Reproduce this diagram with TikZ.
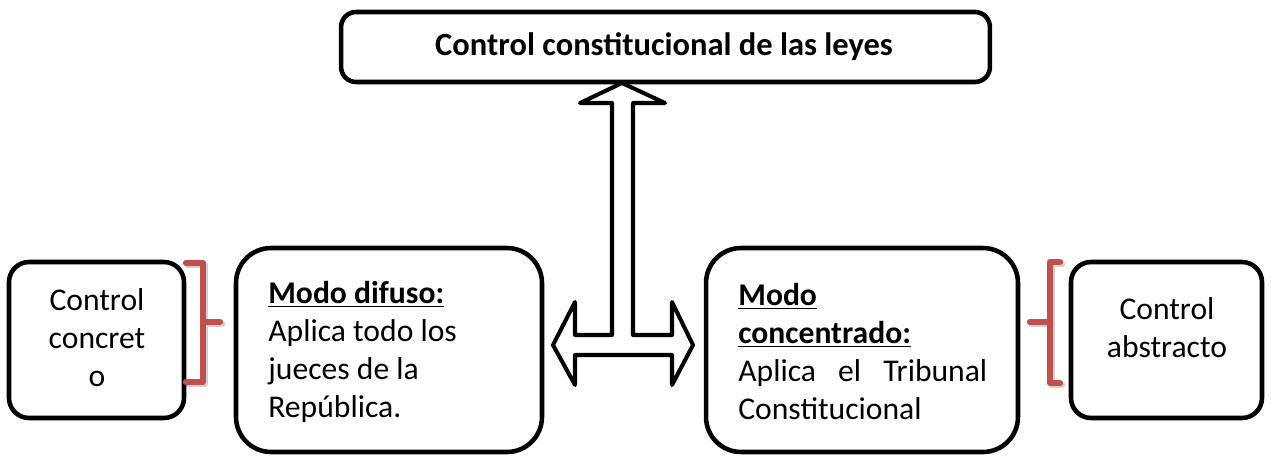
\documentclass[tikz,border=0pt]{standalone}
\usepackage{fontspec}
\setmainfont{Carlito}
\usepackage{xcolor}
\definecolor{bracketred}{HTML}{C0504D}
\tikzset{
  box/.style={draw, line width=2.6pt, rounded corners=0.4cm, inner sep=0pt},
  bodytext/.style={inner sep=0pt, font=\fontsize{18}{21.7}\selectfont},
  bracket/.style={draw=bracketred, line width=3.6pt, line cap=round, line join=round},
  bracketshadow/.style={draw=black, opacity=0.18, line width=3.8pt, line cap=round, line join=round},
}

\begin{document}
\begin{tikzpicture}[x=0.02cm, y=-0.02cm]
\useasboundingbox (0,0) rectangle (1271,456);
\draw node(top)[box, minimum width=12.98cm, minimum height=1.4cm, rounded corners=0.3cm] at (665.5,47) {};
\draw node(title)[bodytext, font=\fontsize{18.5}{22}\selectfont\bfseries] at (664,47) {Control constitucional de las leyes};
\draw node(concreto)[box, minimum width=3.5cm, minimum height=3.12cm] at (96.5,340) {};
\draw node(concretotext)[bodytext, align=center] at (97,338) {Control\\concret\\o};
\draw node(difuso)[box, minimum width=6.12cm, minimum height=4.08cm, rounded corners=0.7cm] at (389,350) {};
\draw node(difusotext)[bodytext, align=left, anchor=north west] at (268,281) {\underline{\textbf{Modo difuso:}}\\Aplica todo los\\jueces de la\\República.};
\draw node(concentrado)[box, minimum width=6.24cm, minimum height=4.08cm, rounded corners=0.7cm] at (862,350) {};
\draw node(concentradotext)[bodytext, align=left, anchor=north west] at (738,283) {\underline{\textbf{Modo}}\\\underline{\textbf{concentrado:}}\\\makebox[4.98cm][s]{Aplica el Tribunal}\\Constitucional};
\draw node(abstracto)[box, minimum width=3.82cm, minimum height=3.12cm] at (1166.5,340) {};
\draw node(abstractotext)[bodytext, align=center] at (1167,328) {Control\\abstracto};
% double arrow
\draw[line width=2.3pt, line join=round] (622,83) -- (580,103) -- (612,103) -- (612,335) -- (575,335) -- (575,302) -- (553,345) -- (575,385) -- (575,355) -- (672,355) -- (672,385) -- (693,345) -- (672,302) -- (672,335) -- (633,335) -- (633,103) -- (665,103) -- cycle;
% brackets
\draw[bracketshadow] (188,265) -- (205,265) -- (205,384) -- (188,384) (205,324) -- (222,324);
\draw[bracket] (186,263) -- (203,263) -- (203,382) -- (186,382) (203,322) -- (220,322);
\draw[bracketshadow] (1062,264) -- (1052,264) -- (1052,385) -- (1062,385) (1052,324) -- (1032,324);
\draw[bracket] (1060,262) -- (1050,262) -- (1050,383) -- (1060,383) (1050,322) -- (1030,322);
\end{tikzpicture}
\end{document}
